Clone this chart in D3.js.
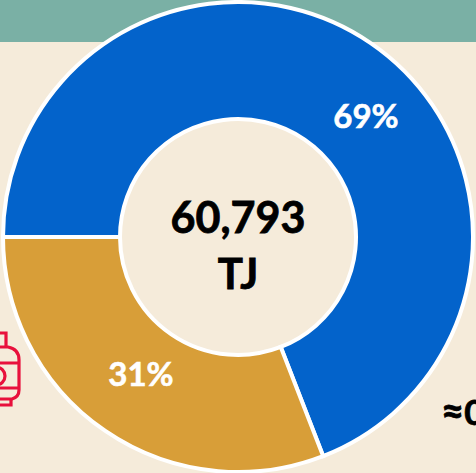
<!DOCTYPE html>
<html><head><meta charset="utf-8">
<script src="https://cdn.jsdelivr.net/npm/d3@7"></script>
<style>html,body{margin:0;padding:0;background:#f5ebda;overflow:hidden}svg{display:block}text{font-family:Lato,"Open Sans",sans-serif;font-weight:700}</style>
</head><body><svg id="c" width="476" height="473"></svg>
<script>
const categories = ["Natural gas","Oil products"];
const shares = [69.1, 30.9];
const labels = ["69%","31%"];
const colors = ["#0363cb","#d89e38"];
const centerLines = ["60,793","TJ"];
const trace = ["≈","0"];

const svg = d3.select("#c");
svg.append("rect").attr("width",476).attr("height",42).attr("fill","#7ab0a5");

const pie = d3.pie().sort(null).startAngle(-Math.PI/2).endAngle(1.5*Math.PI);
const arc = d3.arc().innerRadius(118).outerRadius(235);
const g = svg.append("g").attr("transform","translate(238,237)");
const arcs = pie(shares);
g.selectAll("path").data(arcs).join("path")
  .attr("d",arc).attr("fill",(d,i)=>colors[i])
  .attr("stroke","#fff").attr("stroke-width",4);

const labelPos = [[128,-122],[-97,136]];
g.selectAll("text.pct").data(arcs).join("text").attr("class","pct")
  .attr("x",(d,i)=>labelPos[i][0]).attr("y",(d,i)=>labelPos[i][1])
  .attr("text-anchor","middle").attr("dominant-baseline","central")
  .attr("fill","#fff").attr("stroke","#fff").attr("stroke-width",0.6)
  .attr("font-size",33).text((d,i)=>labels[i]);

svg.selectAll("text.center").data(centerLines).join("text").attr("class","center")
  .attr("x",238).attr("y",(d,i)=>i?273:216)
  .attr("text-anchor","middle").attr("dominant-baseline","central")
  .attr("fill","#000").attr("stroke","#000").attr("stroke-width",0.8)
  .attr("font-size",(d,i)=>i?42:43).text(d=>d);

const tr = svg.append("text").attr("x",441).attr("y",425)
  .attr("fill","#000").attr("stroke","#000").attr("stroke-width",0.8);
tr.append("tspan").attr("font-size",40).text(trace[0]);
tr.append("tspan").attr("font-size",35).text(trace[1]);

// gas cylinder icon, cut by the left edge
const ic = svg.append("g").attr("fill","none").attr("stroke","#e8103c").attr("stroke-width",3.2);
ic.append("path").attr("d","M-2 333H6V347");
ic.append("path").attr("d","M-2 347H8Q19 349 19 360V390Q19 397 12 399H-2");
ic.append("path").attr("d","M-2 363H19M-2 388H19");
ic.append("path").attr("d","M-2 405H11V399");
ic.append("circle").attr("cx",-4).attr("cy",376).attr("r",9);
</script></body></html>
